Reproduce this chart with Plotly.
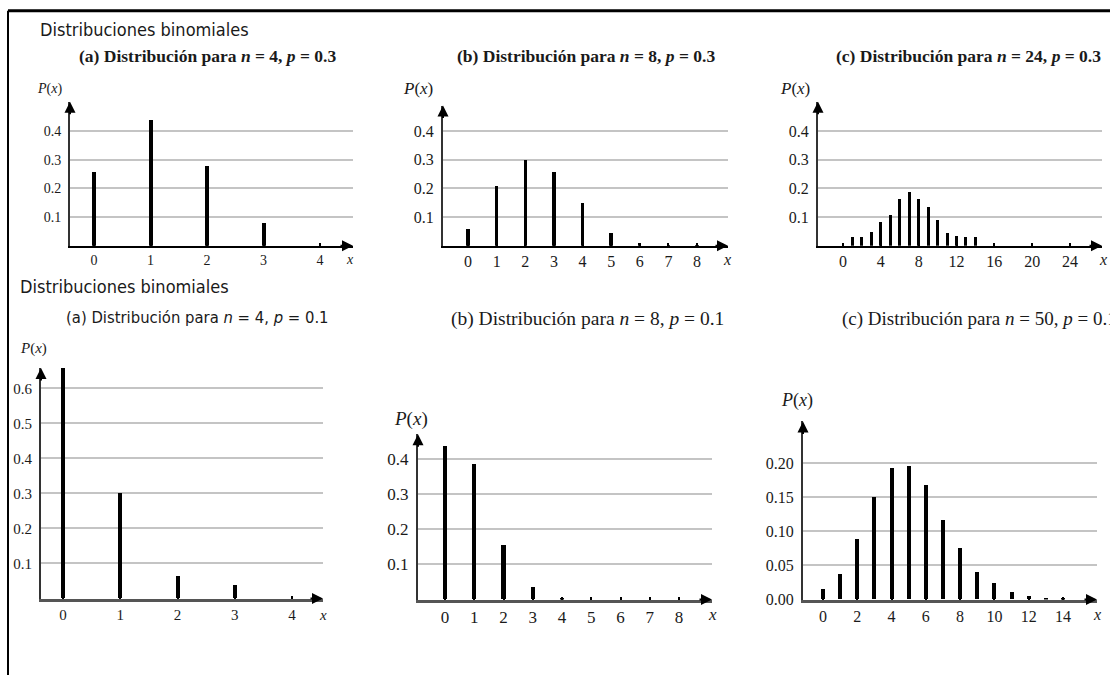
import plotly.graph_objects as go

W, H = 1110, 684

# ---------------- data ----------------
a_x = [0, 1, 2, 3]
a_p = [0.26, 0.44, 0.28, 0.08]

b_x = [0, 1, 2, 3, 4, 5, 6, 7, 8]
b_p = [0.06, 0.21, 0.30, 0.26, 0.15, 0.045, 0.01, 0.002, 0.001]

c_x = [1, 2, 3, 4, 5, 6, 7, 8, 9, 10, 11, 12, 13, 14]
c_p = [0.03, 0.03, 0.05, 0.085, 0.11, 0.165, 0.19, 0.165, 0.135, 0.09, 0.045, 0.035, 0.03, 0.03]

d_x = [0, 1, 2, 3]
d_p = [0.665, 0.30, 0.065, 0.037]

e_x = [0, 1, 2, 3, 4]
e_p = [0.435, 0.385, 0.153, 0.034, 0.005]

f_x = [0, 1, 2, 3, 4, 5, 6, 7, 8, 9, 10, 11, 12, 13, 14]
f_p = [0.015, 0.037, 0.088, 0.15, 0.192, 0.196, 0.168, 0.116, 0.075, 0.04, 0.023, 0.011, 0.004, 0.002, 0.001]

a_xticks = [0, 1, 2, 3, 4]
b_xticks = [0, 1, 2, 3, 4, 5, 6, 7, 8]
c_xticks = [0, 4, 8, 12, 16, 20, 24]
d_xticks = [0, 1, 2, 3, 4]
e_xticks = [0, 1, 2, 3, 4, 5, 6, 7, 8]
f_xticks = [0, 2, 4, 6, 8, 10, 12, 14]

a_yticks = [0.1, 0.2, 0.3, 0.4]
b_yticks = [0.1, 0.2, 0.3, 0.4]
c_yticks = [0.1, 0.2, 0.3, 0.4]
d_yticks = [0.1, 0.2, 0.3, 0.4, 0.5, 0.6]
e_yticks = [0.1, 0.2, 0.3, 0.4]
f_yticks = [0.00, 0.05, 0.10, 0.15, 0.20]
f_yticklabels = ["0.00", "0.05", "0.10", "0.15", "0.20"]

header = "Distribuciones binomiales"
titles = [
    "(a) Distribución para <i>n</i> = 4, <i>p</i> = 0.3",
    "(b) Distribución para <i>n</i> = 8, <i>p</i> = 0.3",
    "(c) Distribución para <i>n</i> = 24, <i>p</i> = 0.3",
    "(a) Distribución para <i>n</i> = 4, <i>p</i> = 0.1",
    "(b) Distribución para <i>n</i> = 8, <i>p</i> = 0.1",
    "(c) Distribución para <i>n</i> = 50, <i>p</i> = 0.1",
]

# ---------------- layout (pixel geometry) ----------------
SERIF = "Liberation Serif, Times New Roman, serif"
NARROW = "DejaVu Sans Condensed, Liberation Sans Narrow, Arial Narrow, sans-serif"

panels = [
    dict(x=a_x, p=a_p, xt=a_xticks, yt=a_yticks, ytl=None,
         px=(70, 353), py=(103, 249), zero=94, ppu=56.5, ypu=290, bw=4.0,
         fs=14, title_pos=(207, 57), tfs=17.5, tfont=SERIF, tbold=True, tanchor="center",
         plab=(49, 90), pfs=14, xlab=(350, 263), xfs=14, axw=2, axc="black"),
    dict(x=b_x, p=b_p, xt=b_xticks, yt=b_yticks, ytl=None,
         px=(443, 728), py=(107, 249), zero=468, ppu=28.625, ypu=290, bw=3.3,
         fs=16, title_pos=(586, 57), tfs=17.5, tfont=SERIF, tbold=True, tanchor="center",
         plab=(418, 90), pfs=17, xlab=(727, 263), xfs=16, axw=2, axc="black"),
    dict(x=c_x, p=c_p, xt=c_xticks, yt=c_yticks, ytl=None,
         px=(818, 1102), py=(103, 249), zero=843, ppu=9.458, ypu=290, bw=3.0,
         fs=16, title_pos=(968, 57), tfs=17.5, tfont=SERIF, tbold=True, tanchor="center",
         plab=(795, 90), pfs=17, xlab=(1103, 263), xfs=16, axw=2, axc="black"),
    dict(x=d_x, p=d_p, xt=d_xticks, yt=d_yticks, ytl=None,
         px=(41, 323), py=(373, 606.5), zero=63, ppu=57.25, ypu=355, bw=4.0,
         fs=15, title_pos=(197, 322), tfs=16.5, tfont=NARROW, tbold=False, tanchor="center",
         plab=(33, 353), pfs=15, xlab=(323, 623), xfs=15, axw=3, axc="#555555"),
    dict(x=e_x, p=e_p, xt=e_xticks, yt=e_yticks, ytl=None,
         px=(418, 712), py=(440, 607.5), zero=445, ppu=29.25, ypu=357, bw=4.3,
         fs=17, title_pos=(587, 323), tfs=19.5, tfont=SERIF, tbold=False, tanchor="center",
         plab=(411, 425), pfs=19, xlab=(712, 623), xfs=17, axw=3, axc="#555555"),
    dict(x=f_x, p=f_p, xt=f_xticks, yt=f_yticks, ytl=f_yticklabels,
         px=(803, 1097), py=(427, 607.5), zero=823, ppu=17.14, ypu=690, bw=4.0,
         fs=16, title_pos=(840, 323), tfs=19, tfont=SERIF, tbold=False, tanchor="left",
         plab=(797, 406), pfs=18, xlab=(1097, 623), xfs=16, axw=3, axc="#555555"),
]

fig = go.Figure()
annotations = []
layout = dict(
    width=W, height=H, autosize=False,
    margin=dict(l=0, r=0, t=0, b=0),
    paper_bgcolor="white", plot_bgcolor="white",
    showlegend=False, bargap=0,
)

def fx(v):
    return v / W

def fy(v):
    return 1 - v / H

for i, pn in enumerate(panels, start=1):
    sfx = "" if i == 1 else str(i)
    xr0 = (pn["px"][0] - pn["zero"]) / pn["ppu"]
    xr1 = (pn["px"][1] - pn["zero"]) / pn["ppu"]
    yr1 = (pn["py"][1] - pn["py"][0]) / pn["ypu"]
    fig.add_trace(go.Bar(
        x=pn["x"], y=pn["p"], xaxis="x" + sfx, yaxis="y" + sfx,
        marker=dict(color="black", line=dict(width=0)),
        width=pn["bw"] / pn["ppu"], cliponaxis=False, hoverinfo="skip",
    ))
    tickfont = dict(family=SERIF, size=pn["fs"], color="#1a1a1a")
    layout["xaxis" + sfx] = dict(
        domain=[fx(pn["px"][0]), fx(pn["px"][1])], range=[xr0, xr1],
        anchor="y" + sfx, showline=True, linecolor=pn["axc"], linewidth=pn["axw"],
        showgrid=False, zeroline=False, tickmode="array", tickvals=pn["xt"],
        ticks="inside", ticklen=3, tickwidth=1.5, tickcolor="black",
        tickfont=tickfont, fixedrange=True,
    )
    yax = dict(
        domain=[fy(pn["py"][1]), fy(pn["py"][0])], range=[0, yr1],
        anchor="x" + sfx, showline=True, linecolor="#333333", linewidth=2,
        showgrid=True, gridcolor="#c4c4c4", gridwidth=1.5, zeroline=False,
        tickmode="array", tickvals=pn["yt"], ticks="", tickfont=tickfont,
        ticklabelstandoff=4, fixedrange=True,
    )
    if pn["ytl"] is not None:
        yax["ticktext"] = pn["ytl"]
    layout["yaxis" + sfx] = yax

    # arrowheads at the ends of the axes
    annotations.append(dict(xref="x" + sfx, yref="y" + sfx, x=xr1, y=0, ax=-14, ay=0,
                            text="", showarrow=True, arrowhead=2, arrowsize=1.1,
                            arrowwidth=2, arrowcolor="black"))
    annotations.append(dict(xref="x" + sfx, yref="y" + sfx, x=xr0, y=yr1, ax=0, ay=14,
                            text="", showarrow=True, arrowhead=2, arrowsize=1.1,
                            arrowwidth=2, arrowcolor="black"))
    # panel title
    t = titles[i - 1]
    if pn["tbold"]:
        t = "<b>" + t + "</b>"
    annotations.append(dict(xref="paper", yref="paper", x=fx(pn["title_pos"][0]),
                            y=fy(pn["title_pos"][1]), xanchor=pn["tanchor"], yanchor="middle",
                            text=t, showarrow=False,
                            font=dict(family=pn["tfont"], size=pn["tfs"], color="#1a1a1a")))
    # P(x) label
    annotations.append(dict(xref="paper", yref="paper", x=fx(pn["plab"][0]),
                            y=fy(pn["plab"][1]), xanchor="center", yanchor="middle",
                            text="<i>P</i>(<i>x</i>)", showarrow=False,
                            font=dict(family=SERIF, size=pn["pfs"], color="#1a1a1a")))
    # x label
    annotations.append(dict(xref="paper", yref="paper", x=fx(pn["xlab"][0]),
                            y=fy(pn["xlab"][1]), xanchor="center", yanchor="middle",
                            text="<i>x</i>", showarrow=False,
                            font=dict(family=SERIF, size=pn["xfs"], color="#1a1a1a")))

# headers
annotations.append(dict(xref="paper", yref="paper", x=fx(38), y=fy(30), xanchor="left",
                        yanchor="middle", text=header, showarrow=False,
                        font=dict(family=NARROW, size=18, color="#1a1a1a")))
annotations.append(dict(xref="paper", yref="paper", x=fx(18), y=fy(290), xanchor="left",
                        yanchor="middle", text=header, showarrow=False,
                        font=dict(family=NARROW, size=18, color="#1a1a1a")))

layout["annotations"] = annotations
layout["shapes"] = [
    dict(type="line", xref="paper", yref="paper", x0=fx(8), x1=1, y0=fy(11), y1=fy(11),
         line=dict(color="black", width=3)),
    dict(type="line", xref="paper", yref="paper", x0=fx(8), x1=fx(8), y0=fy(11), y1=0,
         line=dict(color="black", width=2)),
]

fig.update_layout(**layout)
fig.write_html(
    "out.html",
    config={"displayModeBar": False},
    post_script="document.body.style.margin='0';document.documentElement.style.overflow='hidden';",
)
